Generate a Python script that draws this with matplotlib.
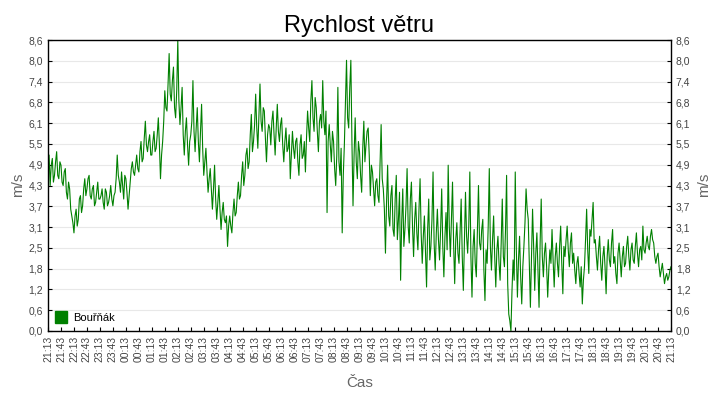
import numpy as np
import pandas as pd
import matplotlib
matplotlib.use("Agg")
import matplotlib.pyplot as plt
from matplotlib.ticker import FixedLocator, FuncFormatter

plt.rcParams["font.family"] = ["Liberation Sans", "DejaVu Sans"]

# Data: wind speed every 2.5 minutes, 21:13 -> 21:13 next day (one row per hour)
start = "2024-01-01 21:13"
step = "150s"
hour_values = [
    [4.7, 5.2, 4.3, 4.9, 5.1, 4.4, 4.6, 5.0, 5.3, 4.6, 4.5, 5.0, 4.9, 4.4, 4.3, 4.7, 4.8, 4.1, 3.9, 4.4, 4.2, 3.6, 3.4, 3.2],
    [2.9, 3.4, 3.6, 3.1, 3.3, 3.9, 4.0, 3.5, 3.7, 4.2, 4.5, 4.0, 4.2, 4.5, 4.6, 4.0, 3.9, 4.2, 4.3, 3.7, 3.8, 4.1, 4.4, 3.9],
    [3.9, 4.0, 4.2, 3.8, 3.6, 4.2, 4.1, 3.7, 3.8, 4.0, 4.3, 3.9, 3.7, 4.0, 4.1, 4.5, 5.2, 4.6, 4.4, 4.1, 4.7, 4.3, 3.9, 4.6],
    [4.5, 4.1, 3.6, 4.0, 4.4, 4.8, 5.0, 4.7, 4.6, 4.9, 5.2, 4.8, 4.7, 5.3, 5.6, 5.0, 5.1, 5.7, 6.2, 5.5, 5.3, 5.6, 5.8, 5.2],
    [5.2, 5.6, 5.9, 5.3, 5.4, 5.8, 6.3, 5.5, 4.5, 5.2, 5.6, 6.2, 7.1, 6.6, 6.5, 7.3, 8.2, 7.0, 6.8, 7.4, 7.8, 6.6, 6.3, 7.1],
    [8.6, 6.8, 6.1, 6.6, 7.2, 5.8, 5.2, 5.9, 6.3, 5.5, 4.9, 5.6, 5.8, 6.2, 7.4, 5.9, 5.3, 6.0, 6.6, 5.6, 5.0, 5.9, 6.7, 5.4],
    [4.6, 5.0, 5.4, 4.7, 4.1, 4.5, 4.8, 4.2, 3.6, 4.2, 4.9, 3.9, 3.3, 3.8, 4.3, 3.6, 3.0, 3.5, 3.8, 3.3, 3.2, 3.4, 2.5, 3.1],
    [3.4, 3.1, 2.9, 3.5, 3.9, 3.4, 3.5, 4.0, 4.4, 3.9, 4.0, 4.6, 5.0, 4.3, 4.6, 5.2, 5.4, 4.8, 5.0, 5.8, 6.4, 5.3, 5.6, 6.1],
    [7.0, 6.0, 5.4, 6.4, 7.3, 6.2, 5.9, 6.6, 6.5, 5.7, 5.0, 5.8, 6.1, 6.0, 5.5, 6.2, 6.5, 5.8, 5.2, 6.0, 6.7, 5.9, 5.6, 6.1],
    [6.3, 5.5, 5.0, 5.6, 6.0, 5.3, 5.4, 5.8, 4.5, 5.2, 5.9, 5.4, 5.1, 5.6, 5.7, 5.0, 4.6, 5.5, 5.8, 5.1, 5.2, 5.6, 4.7, 5.7],
    [6.5, 6.0, 5.6, 6.8, 7.4, 6.3, 5.9, 6.9, 6.6, 5.9, 5.3, 6.2, 6.4, 6.0, 7.4, 6.2, 5.8, 6.5, 3.5, 5.6, 6.1, 5.5, 5.0, 5.9],
    [5.6, 4.8, 4.3, 5.2, 7.2, 5.0, 4.6, 5.4, 2.9, 4.6, 5.5, 6.8, 8.0, 6.3, 6.0, 7.2, 8.0, 5.6, 3.7, 5.2, 6.3, 5.0, 4.5, 5.6],
    [5.3, 4.6, 4.1, 5.4, 6.2, 5.0, 5.5, 5.9, 6.0, 5.2, 4.0, 4.9, 4.7, 4.2, 3.7, 4.4, 4.5, 4.0, 3.8, 4.9, 6.1, 4.5, 4.2, 3.6],
    [2.3, 3.8, 4.9, 3.4, 3.1, 4.0, 4.3, 3.0, 2.8, 3.9, 4.6, 2.7, 3.3, 4.1, 1.5, 3.2, 4.2, 2.5, 3.0, 3.7, 4.8, 3.1, 2.6, 3.9],
    [4.4, 3.1, 2.2, 3.3, 3.8, 2.9, 2.4, 3.6, 4.5, 2.9, 2.0, 2.8, 3.4, 2.3, 1.3, 3.0, 3.9, 2.1, 2.5, 3.3, 4.7, 2.6, 1.8, 2.9],
    [3.6, 2.7, 2.1, 3.0, 4.2, 2.5, 1.6, 2.8, 3.5, 2.4, 4.9, 3.1, 2.2, 3.3, 4.4, 2.6, 1.4, 2.7, 3.2, 2.3, 2.0, 3.0, 3.9, 2.2],
    [1.2, 2.6, 4.1, 2.8, 2.3, 3.1, 4.7, 2.2, 1.0, 2.5, 3.0, 2.0, 1.6, 2.9, 4.3, 2.6, 2.4, 3.0, 3.3, 1.8, 0.9, 2.4, 2.0, 3.1],
    [4.8, 2.5, 1.8, 2.7, 3.4, 2.2, 1.3, 2.4, 2.8, 2.0, 1.5, 2.6, 3.9, 2.2, 1.9, 3.0, 4.6, 1.4, 0.5, 0.3, 0.0, 1.2, 2.1, 1.5],
    [4.7, 2.4, 1.0, 2.1, 2.8, 1.6, 0.8, 1.9, 2.5, 3.2, 4.2, 3.6, 3.3, 2.0, 0.7, 2.2, 3.6, 2.5, 1.2, 2.3, 2.9, 1.8, 0.7, 2.6],
    [3.9, 2.2, 1.6, 2.3, 2.6, 1.9, 1.0, 1.8, 2.4, 2.0, 3.0, 2.1, 1.3, 2.2, 2.6, 2.0, 1.6, 2.5, 3.1, 2.0, 1.1, 2.5, 2.2, 2.7],
    [3.1, 2.4, 1.9, 2.6, 2.9, 2.0, 2.3, 1.8, 1.4, 2.0, 2.2, 1.7, 1.3, 1.9, 0.8, 1.5, 1.9, 2.7, 3.6, 2.4, 1.7, 3.0, 2.8, 3.3],
    [3.8, 2.6, 2.7, 2.2, 1.8, 2.4, 2.8, 2.0, 1.5, 2.2, 2.5, 1.9, 1.1, 2.2, 2.7, 2.1, 1.9, 2.6, 3.0, 2.0, 2.2, 1.7, 1.4, 2.3],
    [2.6, 2.1, 1.6, 2.2, 2.5, 1.9, 2.0, 2.5, 2.8, 2.2, 1.8, 2.4, 2.6, 2.1, 2.0, 2.5, 2.9, 2.3, 1.9, 2.4, 2.5, 2.1, 3.1, 2.4],
    [2.3, 2.6, 2.8, 2.5, 2.4, 2.8, 3.0, 2.7, 2.6, 2.2, 2.0, 2.2, 2.3, 1.9, 1.6, 1.8, 2.0, 1.7, 1.4, 1.6, 1.7, 1.5, 1.6, 1.8],
]
last_value = 1.9
series_name = "Bouřňák"

speed = [v for row in hour_values for v in row] + [last_value]
times = pd.date_range(start, periods=len(speed), freq=step)
t0 = times[0]
hours = (times - t0) / pd.Timedelta(hours=1)

y_max = 8.6
y_ticks = np.arange(15) * y_max / 14
x_ticks = np.arange(0, 24.01, 0.5)
x_labels = [(t0 + pd.Timedelta(hours=h)).strftime("%H:%M") for h in x_ticks]

green = "#008000"
gray = "#444444"

fig = plt.figure(figsize=(7.2, 4.0), dpi=100)
ax = fig.add_axes([48 / 720, 1 - 331 / 400, 623 / 720, 291 / 400])

ax.plot(hours, speed, color=green, lw=0.8)
ax.set_xlim(0, 24)
ax.set_ylim(0, y_max)

ax.yaxis.set_major_locator(FixedLocator(y_ticks))
ax.yaxis.set_major_formatter(FuncFormatter(lambda v, p: f"{v:.1f}".replace(".", ",")))
ax.set_xticks(x_ticks)
ax.set_xticklabels(x_labels, rotation=90, fontsize=7.5, color=gray)
ax.tick_params(axis="both", direction="in", length=3, width=0.8, labelsize=7.5,
               labelcolor=gray, right=True, labelright=True)
ax.grid(axis="y", color="#e8e8e8", lw=0.8)
ax.set_axisbelow(True)
for s in ax.spines.values():
    s.set_color("black")
    s.set_linewidth(1.0)

ax.set_title("Rychlost větru", fontsize=17, color="black", pad=6)
fig.text(360 / 720, 1 - 383 / 400, "Čas", fontsize=11, color="#666666",
         ha="center", va="center")
fig.text(18 / 720, 1 - 185 / 400, "m/s", fontsize=11, color="#666666",
         rotation=90, ha="center", va="center")
fig.text(704 / 720, 1 - 185 / 400, "m/s", fontsize=11, color="#666666",
         rotation=90, ha="center", va="center")

ax.plot([], [], "s", color=green, ms=9, label=series_name)
ax.legend(loc="lower left", frameon=False, fontsize=8, handletextpad=0.6,
          borderaxespad=0.3, handlelength=1.0)

fig.savefig("out.png", dpi=100)
